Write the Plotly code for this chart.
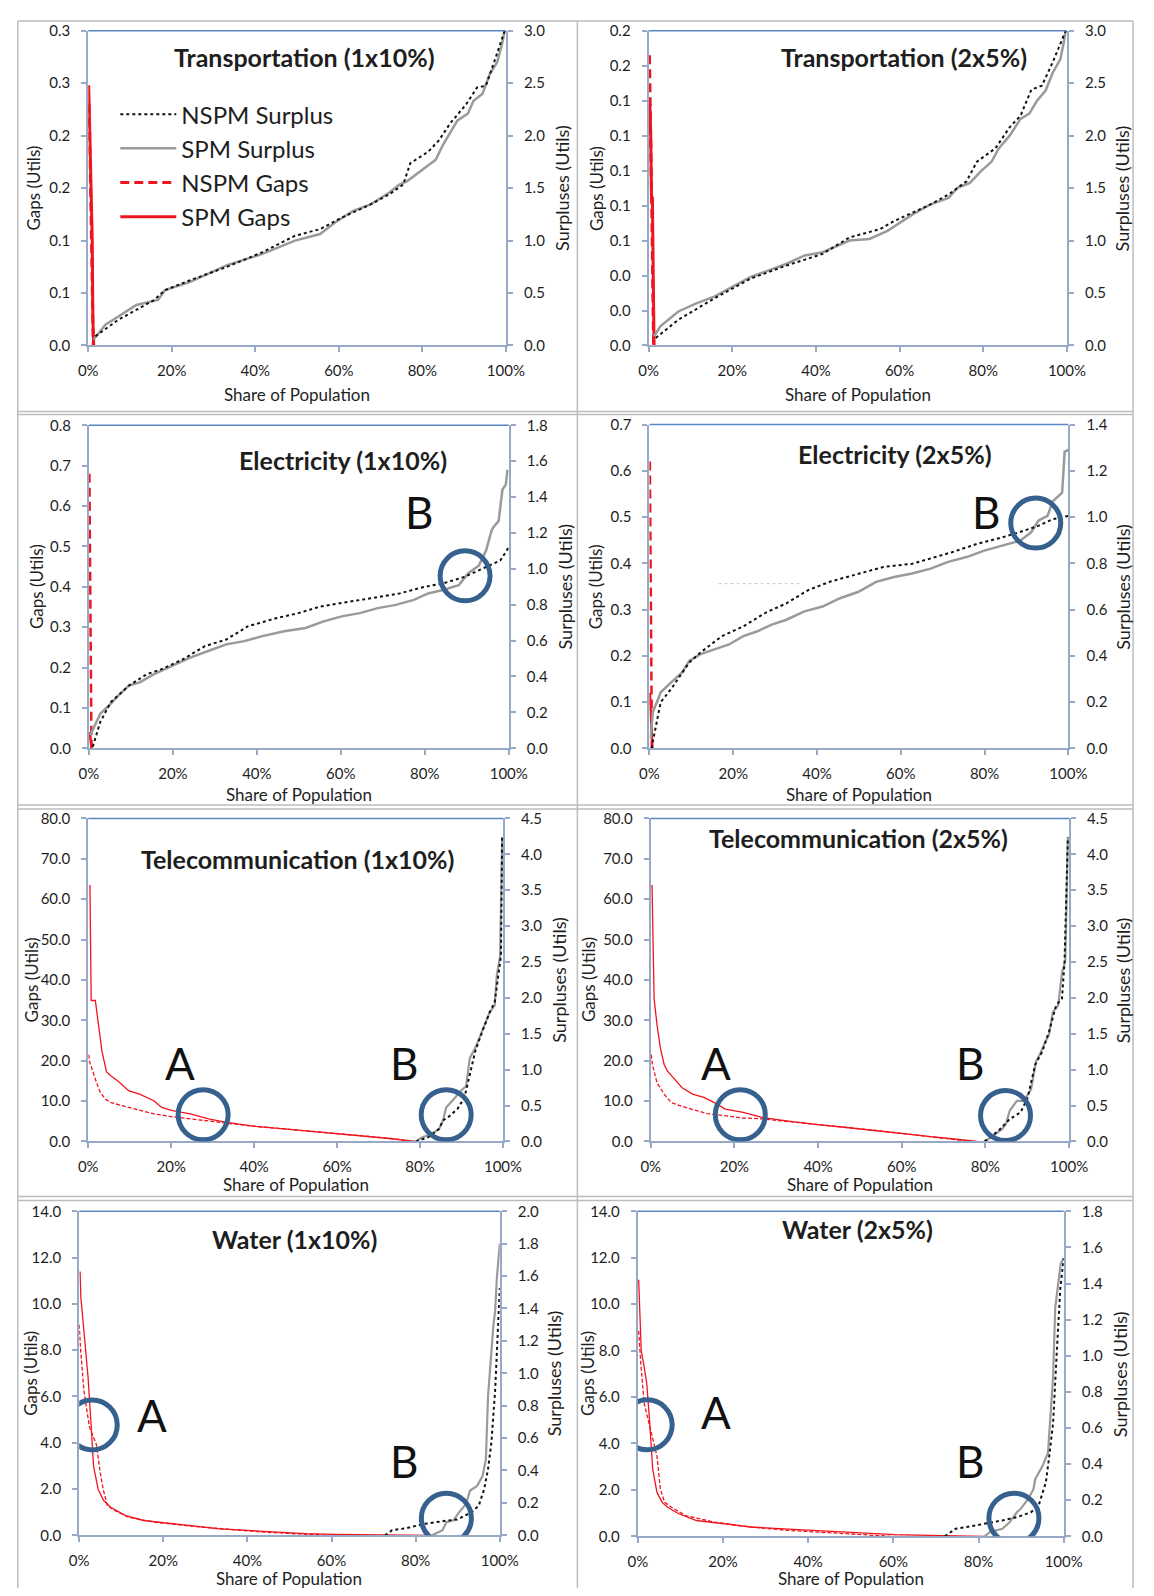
import plotly.graph_objects as go

# ---------------- DATA ----------------
# Transportation (1x10%)
T1_SPM_SUR_X = [0.013,0.041,0.072,0.115,0.167,0.184,0.244,0.331,0.417,0.495,0.555,0.59,0.633,0.676,0.72,0.745,0.763,0.806,0.832,0.849,0.884,0.909,0.922,0.944,0.961,0.979,0.991,0.997]
T1_SPM_SUR_Y = [0.057,0.198,0.276,0.386,0.434,0.528,0.606,0.763,0.873,1.0,1.062,1.17,1.28,1.345,1.455,1.533,1.565,1.69,1.77,1.91,2.146,2.21,2.33,2.40,2.585,2.70,2.88,3.0]
T1_NSPM_SUR_X = [0.017,0.072,0.158,0.184,0.244,0.331,0.417,0.495,0.555,0.607,0.676,0.72,0.754,0.771,0.814,0.840,0.866,0.905,0.931,0.952,0.974,0.994,0.997]
T1_NSPM_SUR_Y = [0.088,0.245,0.434,0.528,0.622,0.748,0.889,1.046,1.109,1.219,1.345,1.439,1.533,1.737,1.847,1.957,2.114,2.30,2.46,2.476,2.727,2.947,3.0]
T1_SPM_GAP_X = [0.001,0.004,0.007,0.0095,0.011,0.013]
T1_SPM_GAP_Y = [0.248,0.2,0.144,0.1,0.025,0.0]
T1_NSPM_GAP_X = [0.002,0.005,0.008,0.011,0.012]
T1_NSPM_GAP_Y = [0.23,0.17,0.11,0.04,0.0]
T1_GAP_TICKS = [0,0.05,0.10,0.15,0.20,0.25,0.30]
T1_GAP_LABELS = ['0.0','0.1','0.1','0.2','0.2','0.3','0.3']

# Transportation (2x5%)
T2_SPM_SUR_X = [0.013,0.028,0.071,0.114,0.157,0.2,0.244,0.287,0.33,0.373,0.416,0.48,0.528,0.571,0.631,0.674,0.717,0.738,0.768,0.794,0.82,0.837,0.863,0.889,0.91,0.928,0.949,0.966,0.984,0.992,0.997]
T2_SPM_SUR_Y = [0.088,0.182,0.324,0.402,0.465,0.559,0.653,0.716,0.779,0.858,0.889,1.0,1.015,1.093,1.25,1.345,1.407,1.502,1.549,1.659,1.753,1.879,2.0,2.16,2.21,2.33,2.43,2.60,2.727,2.88,3.0]
T2_NSPM_SUR_X = [0.017,0.071,0.157,0.244,0.33,0.416,0.48,0.553,0.588,0.674,0.717,0.76,0.785,0.829,0.863,0.889,0.915,0.94,0.966,0.988,0.997]
T2_NSPM_SUR_Y = [0.072,0.245,0.449,0.638,0.763,0.873,1.03,1.109,1.188,1.345,1.439,1.565,1.753,1.879,2.08,2.19,2.44,2.476,2.70,2.915,3.0]
T2_SPM_GAP_X = [0.003,0.005,0.007,0.009,0.011,0.013]
T2_SPM_GAP_Y = [0.138,0.12,0.082,0.085,0.04,0.0]
T2_NSPM_GAP_X = [0.002,0.004,0.006,0.008,0.010,0.012]
T2_NSPM_GAP_Y = [0.166,0.14,0.11,0.07,0.03,0.0]
T2_GAP_TICKS = [0,0.02,0.04,0.06,0.08,0.10,0.12,0.14,0.16,0.18]
T2_GAP_LABELS = ['0.0','0.0','0.0','0.1','0.1','0.1','0.1','0.1','0.2','0.2']

# Electricity (1x10%)
E1_SPM_SUR_X = [0.003,0.014,0.027,0.044,0.07,0.095,0.121,0.155,0.198,0.241,0.284,0.327,0.37,0.413,0.465,0.516,0.559,0.602,0.645,0.688,0.731,0.774,0.808,0.843,0.881,0.903,0.929,0.946,0.959,0.963,0.976,0.985,0.993,0.997]
E1_SPM_SUR_Y = [0.073,0.129,0.193,0.23,0.294,0.349,0.367,0.413,0.459,0.505,0.542,0.579,0.597,0.625,0.652,0.67,0.707,0.735,0.753,0.781,0.799,0.827,0.863,0.882,0.909,0.974,1.019,1.102,1.212,1.231,1.267,1.442,1.469,1.552]
E1_NSPM_SUR_X = [0.009,0.027,0.052,0.095,0.138,0.173,0.224,0.276,0.327,0.379,0.448,0.499,0.551,0.602,0.671,0.74,0.8,0.843,0.894,0.946,0.98,1.0]
E1_NSPM_SUR_Y = [0.009,0.147,0.257,0.349,0.413,0.441,0.496,0.569,0.606,0.68,0.726,0.753,0.79,0.808,0.836,0.863,0.9,0.918,0.955,1.01,1.047,1.12]
E1_SPM_GAP_X = [0.002,0.004,0.006]
E1_SPM_GAP_Y = [0.04,0.02,0.0]
E1_NSPM_GAP_X = [0.001,0.002,0.003,0.004,0.005,0.006]
E1_NSPM_GAP_Y = [0.68,0.55,0.35,0.18,0.05,0.0]

# Electricity (2x5%)
E2_SPM_SUR_X = [0.003,0.008,0.018,0.027,0.052,0.078,0.095,0.121,0.155,0.19,0.224,0.258,0.292,0.327,0.37,0.413,0.455,0.499,0.541,0.584,0.627,0.671,0.713,0.757,0.799,0.842,0.885,0.911,0.928,0.95,0.963,0.985,0.991,1.0]
E2_SPM_SUR_Y = [0.043,0.157,0.2,0.242,0.285,0.328,0.378,0.406,0.428,0.449,0.485,0.506,0.535,0.556,0.592,0.613,0.649,0.677,0.72,0.741,0.756,0.777,0.806,0.827,0.855,0.877,0.898,0.934,0.984,1.005,1.069,1.105,1.283,1.29]
E2_NSPM_SUR_X = [0.005,0.014,0.027,0.052,0.095,0.121,0.173,0.224,0.276,0.327,0.379,0.43,0.499,0.558,0.627,0.671,0.722,0.782,0.842,0.894,0.928,0.963,1.0]
E2_NSPM_SUR_Y = [0.0,0.086,0.2,0.257,0.371,0.413,0.485,0.527,0.585,0.627,0.684,0.72,0.756,0.784,0.798,0.82,0.848,0.884,0.912,0.941,0.962,0.991,1.005]
E2_SPM_GAP_X = [0.001,0.003,0.005,0.007]
E2_SPM_GAP_Y = [0.12,0.08,0.03,0.0]
E2_NSPM_GAP_X = [0.001,0.002,0.003,0.004,0.005,0.006]
E2_NSPM_GAP_Y = [0.62,0.5,0.3,0.15,0.05,0.0]
E2_STRAY_X = [0.165,0.362]
E2_STRAY_Y = [0.356,0.356]

# Telecommunication (1x10%)
C1_SPM_GAP_X = [0.004,0.007,0.017,0.024,0.033,0.044,0.055,0.072,0.098,0.124,0.159,0.177,0.203,0.246,0.29,0.333,0.403,0.472,0.55,0.611,0.681,0.733,0.768,0.79]
C1_SPM_GAP_Y = [63.5,34.9,34.9,28.8,22.3,17.2,16.2,14.9,12.5,11.7,10.0,8.4,7.6,6.8,5.6,4.7,3.7,3.1,2.4,1.9,1.2,0.65,0.24,0.0]
C1_NSPM_GAP_X = [0.001,0.003,0.02,0.029,0.042,0.055,0.098,0.159,0.203,0.246,0.29,0.333,0.403,0.472,0.55,0.611,0.681,0.733,0.777]
C1_NSPM_GAP_Y = [21.5,19.8,14.5,12.1,10.4,9.6,8.4,6.8,6.1,5.6,5.1,4.5,3.7,3.1,2.4,2.0,1.2,0.65,0.0]
C1_SPM_SUR_X = [0.79,0.803,0.829,0.846,0.855,0.863,0.881,0.898,0.911,0.92,0.933,0.95,0.968,0.98,0.985,0.993,0.995,0.998]
C1_SPM_SUR_Y = [0.0,0.05,0.106,0.174,0.289,0.473,0.588,0.702,0.771,1.16,1.3,1.53,1.80,1.896,2.31,2.585,3.365,4.24]
C1_NSPM_SUR_X = [0.79,0.82,0.846,0.855,0.872,0.89,0.907,0.916,0.933,0.95,0.968,0.98,0.989,0.995,0.998]
C1_NSPM_SUR_Y = [0.0,0.06,0.174,0.289,0.358,0.45,0.611,0.84,1.253,1.53,1.80,1.94,2.355,2.585,4.24]

# Telecommunication (2x5%)
C2_SPM_GAP_X = [0.003,0.008,0.015,0.023,0.032,0.04,0.058,0.075,0.1,0.127,0.152,0.178,0.221,0.264,0.324,0.393,0.462,0.54,0.608,0.669,0.72,0.755,0.78]
C2_SPM_GAP_Y = [63.5,35.3,28.8,23.1,19.0,17.4,15.3,13.3,11.7,10.9,9.6,8.0,7.2,6.0,5.1,4.2,3.5,2.7,1.9,1.2,0.65,0.24,0.0]
C2_NSPM_GAP_X = [0.001,0.004,0.015,0.032,0.049,0.083,0.135,0.178,0.221,0.264,0.324,0.393,0.462,0.54,0.608,0.669,0.72,0.763]
C2_NSPM_GAP_Y = [21.5,19.0,14.5,11.7,9.6,8.4,6.9,6.4,5.8,5.6,5.0,4.2,3.5,2.7,1.9,1.2,0.65,0.0]
C2_SPM_SUR_X = [0.798,0.815,0.84,0.849,0.858,0.875,0.892,0.909,0.921,0.93,0.943,0.952,0.961,0.974,0.983,0.991,0.994,0.997]
C2_SPM_SUR_Y = [0.0,0.06,0.174,0.243,0.427,0.565,0.565,0.725,1.116,1.21,1.39,1.483,1.80,1.896,2.355,2.516,3.365,4.24]
C2_NSPM_SUR_X = [0.798,0.832,0.858,0.884,0.901,0.919,0.936,0.952,0.969,0.983,0.989,0.997]
C2_NSPM_SUR_Y = [0.0,0.152,0.312,0.404,0.611,1.07,1.253,1.53,1.896,1.99,2.49,4.24]

# Water (1x10%)
W1_SPM_GAP_X = [0.002,0.004,0.009,0.015,0.021,0.028,0.034,0.045,0.058,0.075,0.11,0.153,0.204,0.264,0.333,0.401,0.47,0.539,0.607,0.693,0.779,0.839]
W1_SPM_GAP_Y = [11.4,10.26,9.26,8.12,6.84,4.84,2.99,1.99,1.5,1.21,0.85,0.64,0.53,0.4,0.28,0.21,0.14,0.07,0.04,0.03,0.0,0.0]
W1_NSPM_GAP_X = [0.0,0.003,0.011,0.017,0.024,0.033,0.041,0.05,0.057,0.067,0.084,0.118,0.178,0.264,0.35,0.436,0.521,0.607,0.693]
W1_NSPM_GAP_Y = [9.1,8.1,6.27,5.56,4.7,4.27,3.92,2.7,1.99,1.28,1.07,0.78,0.57,0.4,0.26,0.14,0.06,0.0,0.0]
W1_NSPM_SUR_X = [0.727,0.744,0.779,0.822,0.864,0.899,0.933,0.95,0.963,0.972,0.98,0.989,0.995,1.0]
W1_NSPM_SUR_Y = [0.0,0.031,0.045,0.071,0.087,0.098,0.142,0.183,0.285,0.407,0.57,0.895,1.241,1.526]
W1_SPM_SUR_X = [0.839,0.864,0.873,0.89,0.903,0.92,0.929,0.946,0.959,0.967,0.972,0.98,0.985,0.989,0.993,1.0]
W1_SPM_SUR_Y = [0.0,0.031,0.081,0.092,0.142,0.193,0.275,0.305,0.366,0.468,0.855,1.139,1.302,1.384,1.587,1.80]

# Water (2x5%)
W2_SPM_GAP_X = [0.002,0.005,0.008,0.015,0.021,0.028,0.035,0.045,0.057,0.07,0.096,0.138,0.197,0.265,0.332,0.4,0.467,0.535,0.603,0.687,0.772,0.814]
W2_SPM_GAP_Y = [11.05,9.42,8.0,7.29,6.58,4.87,2.88,1.89,1.46,1.25,0.97,0.68,0.54,0.4,0.33,0.26,0.18,0.11,0.07,0.04,0.01,0.0]
W2_NSPM_GAP_X = [0.002,0.007,0.015,0.024,0.032,0.045,0.053,0.063,0.079,0.112,0.18,0.265,0.349,0.434,0.518,0.594,0.70]
W2_NSPM_GAP_Y = [8.85,7.43,5.72,5.01,4.45,3.45,2.03,1.46,1.25,0.89,0.61,0.4,0.26,0.16,0.07,0.0,0.0]
W2_NSPM_SUR_X = [0.721,0.746,0.772,0.814,0.856,0.89,0.923,0.941,0.958,0.966,0.975,0.983,0.992,1.0]
W2_NSPM_SUR_Y = [0.0,0.042,0.051,0.069,0.088,0.106,0.133,0.17,0.298,0.444,0.626,0.991,1.375,1.539]
W2_SPM_SUR_X = [0.814,0.827,0.856,0.873,0.89,0.899,0.916,0.929,0.933,0.95,0.963,0.968,0.972,0.975,0.98,0.987,0.993,1.0]
W2_SPM_SUR_Y = [0.0,0.024,0.042,0.078,0.133,0.152,0.206,0.261,0.316,0.389,0.462,0.626,0.79,0.882,1.265,1.393,1.511,1.539]

X_TICKS = [0, 0.2, 0.4, 0.6, 0.8, 1.0]
X_LABELS = ['0%', '20%', '40%', '60%', '80%', '100%']

TITLES = ['Transportation (1x10%)', 'Transportation (2x5%)', 'Electricity (1x10%)', 'Electricity (2x5%)',
          'Telecommunication (1x10%)', 'Telecommunication (2x5%)', 'Water (1x10%)', 'Water (2x5%)']
GAP_MAX = [0.30, 0.18, 0.8, 0.7, 80, 80, 14, 14]
GAP_STEP = [0.05, 0.02, 0.1, 0.1, 10, 10, 2, 2]
SUR_MAX = [3.0, 3.0, 1.8, 1.4, 4.5, 4.5, 2.0, 1.8]
SUR_STEP = [0.5, 0.5, 0.2, 0.2, 0.5, 0.5, 0.2, 0.2]

SERIES = [
    (T1_NSPM_SUR_X, T1_NSPM_SUR_Y, T1_SPM_SUR_X, T1_SPM_SUR_Y, T1_NSPM_GAP_X, T1_NSPM_GAP_Y, T1_SPM_GAP_X, T1_SPM_GAP_Y),
    (T2_NSPM_SUR_X, T2_NSPM_SUR_Y, T2_SPM_SUR_X, T2_SPM_SUR_Y, T2_NSPM_GAP_X, T2_NSPM_GAP_Y, T2_SPM_GAP_X, T2_SPM_GAP_Y),
    (E1_NSPM_SUR_X, E1_NSPM_SUR_Y, E1_SPM_SUR_X, E1_SPM_SUR_Y, E1_NSPM_GAP_X, E1_NSPM_GAP_Y, E1_SPM_GAP_X, E1_SPM_GAP_Y),
    (E2_NSPM_SUR_X, E2_NSPM_SUR_Y, E2_SPM_SUR_X, E2_SPM_SUR_Y, E2_NSPM_GAP_X, E2_NSPM_GAP_Y, E2_SPM_GAP_X, E2_SPM_GAP_Y),
    (C1_NSPM_SUR_X, C1_NSPM_SUR_Y, C1_SPM_SUR_X, C1_SPM_SUR_Y, C1_NSPM_GAP_X, C1_NSPM_GAP_Y, C1_SPM_GAP_X, C1_SPM_GAP_Y),
    (C2_NSPM_SUR_X, C2_NSPM_SUR_Y, C2_SPM_SUR_X, C2_SPM_SUR_Y, C2_NSPM_GAP_X, C2_NSPM_GAP_Y, C2_SPM_GAP_X, C2_SPM_GAP_Y),
    (W1_NSPM_SUR_X, W1_NSPM_SUR_Y, W1_SPM_SUR_X, W1_SPM_SUR_Y, W1_NSPM_GAP_X, W1_NSPM_GAP_Y, W1_SPM_GAP_X, W1_SPM_GAP_Y),
    (W2_NSPM_SUR_X, W2_NSPM_SUR_Y, W2_SPM_SUR_X, W2_SPM_SUR_Y, W2_NSPM_GAP_X, W2_NSPM_GAP_Y, W2_SPM_GAP_X, W2_SPM_GAP_Y),
]

# annotation markers: (panel, x share, gap value)
CIRCLES = [(2, 0.896, 0.427), (3, 0.922, 0.487), (4, 0.277, 6.6), (4, 0.863, 6.6),
           (5, 0.214, 6.6), (5, 0.848, 6.4), (6, 0.031, 4.77), (6, 0.873, 0.74),
           (7, 0.022, 4.8), (7, 0.883, 0.78)]
LETTERS = [(2, 'B', 0.787, 0.586), (3, 'B', 0.804, 0.512), (4, 'A', 0.22, 19.4), (4, 'B', 0.761, 19.4),
           (5, 'A', 0.155, 19.4), (5, 'B', 0.763, 19.4), (6, 'A', 0.172, 5.2), (6, 'B', 0.772, 3.2),
           (7, 'A', 0.183, 5.37), (7, 'B', 0.78, 3.24)]

# ---------------- LAYOUT (pixels) ----------------
W, H = 1154, 1596
PANEL_PX = [
    (80.3, 508.7, 21, 339.3), (655.1, 1084.2, 21, 339.3),
    (81.0, 511.6, 420, 746.7), (655.9, 1085.7, 419.3, 746.7),
    (80.3, 505.7, 817.7, 1144.3), (657.3, 1086.4, 817.7, 1144.3),
    (71.0, 502.4, 1215, 1542.7), (644.0, 1080.9, 1215, 1543.7),
]
TITLE_POS = [(302, 48), (917, 48), (342, 455), (908, 449), (295, 859), (870, 837), (292, 1243), (869, 1233)]
GAP_TITLE_X = [24, 601, 27, 601, 22, 594, 21, 593]
SUR_TITLE_X = [566, 1141, 569, 1142, 563, 1142, 558, 1138]
XT_Y = [389, 389, 793, 793, 1188, 1188, 1586, 1586]
RED_W = [3, 3, 2.5, 2.5, 1.3, 1.3, 1.3, 1.3]
GRAY_W = [2.5, 2.5, 2.5, 2.5, 2.2, 2.2, 2.2, 2.2]

FONT = 'Lato'
TXT = '#1e1e1e'
AXC = '#97A9C6'
RED = '#F0141E'
GRAY = '#9A9A9A'
CIRC = '#36608E'


def fx(p):
    return p / W


def fy(p):
    return 1 - p / H


def rng(mx, st):
    n = int(round(mx / st))
    return [round(i * st, 6) for i in range(n + 1)]


fig = go.Figure()
layout = {}
shapes = []
annotations = []

for i in range(8):
    xa = 'x' if i == 0 else f'x{i+1}'
    yl_n = 2 * i + 1
    yr_n = 2 * i + 2
    yl = 'y' if yl_n == 1 else f'y{yl_n}'
    yr = f'y{yr_n}'
    l, r, t, b = PANEL_PX[i]
    nsx, nsy, ssx, ssy, ngx, ngy, sgx, sgy = SERIES[i]
    leg = (i == 0)

    fig.add_trace(go.Scatter(x=ngx, y=ngy, xaxis=xa, yaxis=yl, mode='lines', name='NSPM Gaps',
                             line=dict(color=RED, width=RED_W[i], dash='9px,5px' if RED_W[i] > 2 else '4px,2px'),
                             showlegend=leg, legendrank=3, hoverinfo='skip'))
    fig.add_trace(go.Scatter(x=sgx, y=sgy, xaxis=xa, yaxis=yl, mode='lines', name='SPM Gaps',
                             line=dict(color=RED, width=RED_W[i]),
                             showlegend=leg, legendrank=4, hoverinfo='skip'))
    if i == 3:
        fig.add_trace(go.Scatter(x=E2_STRAY_X, y=E2_STRAY_Y, xaxis=xa, yaxis=yl, mode='lines',
                                 line=dict(color='#C8C8C8', width=1, dash='dot'),
                                 showlegend=False, hoverinfo='skip'))
    fig.add_trace(go.Scatter(x=ssx, y=ssy, xaxis=xa, yaxis=yr, mode='lines', name='SPM Surplus',
                             line=dict(color=GRAY, width=GRAY_W[i]),
                             showlegend=leg, legendrank=2, hoverinfo='skip'))
    fig.add_trace(go.Scatter(x=nsx, y=nsy, xaxis=xa, yaxis=yr, mode='lines', name='NSPM Surplus',
                             line=dict(color='#111111', width=2, dash='dot'),
                             showlegend=leg, legendrank=1, hoverinfo='skip'))

    axis_common = dict(showgrid=False, zeroline=False, showline=True, linecolor=AXC, linewidth=2,
                       ticks='outside', ticklen=5, tickwidth=1.5, tickcolor=AXC,
                       tickfont=dict(family=FONT, size=15, color=TXT))

    layout['xaxis' if i == 0 else f'xaxis{i+1}'] = dict(
        domain=[fx(l), fx(r)], anchor=yl, range=[0, 1], tickvals=X_TICKS, ticktext=X_LABELS,
        ticklabelstandoff=6, **axis_common)

    if i == 0:
        gticks, glabels = T1_GAP_TICKS, T1_GAP_LABELS
    elif i == 1:
        gticks, glabels = T2_GAP_TICKS, T2_GAP_LABELS
    else:
        gticks = rng(GAP_MAX[i], GAP_STEP[i])
        glabels = [f'{v:.1f}' for v in gticks]
    layout['yaxis' if yl_n == 1 else f'yaxis{yl_n}'] = dict(
        domain=[fy(b), fy(t)], anchor=xa, range=[0, GAP_MAX[i]], tickvals=gticks, ticktext=glabels,
        ticklabelstandoff=8, **axis_common)
    sticks = rng(SUR_MAX[i], SUR_STEP[i])
    layout[f'yaxis{yr_n}'] = dict(
        overlaying=yl, side='right', anchor=xa, range=[0, SUR_MAX[i]], tickvals=sticks,
        ticktext=[f'{v:.1f}' for v in sticks], ticklabelstandoff=8, **axis_common)

    # top border of plot area
    shapes.append(dict(type='line', xref='paper', yref='paper', x0=fx(l), x1=fx(r), y0=fy(t), y1=fy(t),
                       line=dict(color='#5A86C4', width=1.5)))

    # texts
    annotations.append(dict(text=TITLES[i], xref='paper', yref='paper', x=fx(TITLE_POS[i][0]), y=fy(TITLE_POS[i][1]),
                            xanchor='center', yanchor='middle', showarrow=False,
                            font=dict(family=FONT, size=25, color=TXT, weight=700)))
    cy = (t + b) / 2
    annotations.append(dict(text='Gaps (Utils)', xref='paper', yref='paper', x=fx(GAP_TITLE_X[i]), y=fy(cy),
                            xanchor='center', yanchor='middle', showarrow=False, textangle=-90,
                            font=dict(family=FONT, size=17, color=TXT)))
    annotations.append(dict(text='Surpluses (Utils)', xref='paper', yref='paper', x=fx(SUR_TITLE_X[i]), y=fy(cy),
                            xanchor='center', yanchor='middle', showarrow=False, textangle=-90,
                            font=dict(family=FONT, size=18, color=TXT)))
    annotations.append(dict(text='Share of Population', xref='paper', yref='paper', x=fx((l + r) / 2), y=fy(XT_Y[i]),
                            xanchor='center', yanchor='middle', showarrow=False,
                            font=dict(family=FONT, size=17, color=TXT)))

for (p, cx, cyv) in CIRCLES:
    xa = 'x' if p == 0 else f'x{p+1}'
    yl_n = 2 * p + 1
    yl = 'y' if yl_n == 1 else f'y{yl_n}'
    shapes.append(dict(type='circle', xref=xa, yref=yl, xsizemode='pixel', ysizemode='pixel',
                       xanchor=cx, yanchor=cyv, x0=-25, x1=25, y0=-25, y1=25,
                       line=dict(color=CIRC, width=5)))

for (p, txt, lx, ly) in LETTERS:
    xa = 'x' if p == 0 else f'x{p+1}'
    yl_n = 2 * p + 1
    yl = 'y' if yl_n == 1 else f'y{yl_n}'
    annotations.append(dict(text=txt, xref=xa, yref=yl, x=lx, y=ly, showarrow=False,
                            xanchor='center', yanchor='middle',
                            font=dict(family=FONT, size=44, color='#111111')))

# panel frames
FRAME = '#BDBDBD'
for yy in [11, 406, 409, 804, 808, 1200, 1204]:
    shapes.append(dict(type='line', xref='paper', yref='paper', x0=fx(8), x1=fx(1152), y0=fy(yy), y1=fy(yy),
                       line=dict(color=FRAME, width=1.5), layer='below'))
for xx in [8, 582, 1152]:
    shapes.append(dict(type='line', xref='paper', yref='paper', x0=fx(xx), x1=fx(xx), y0=fy(11), y1=fy(1596),
                       line=dict(color=FRAME, width=1.5), layer='below'))

layout.update(dict(
    width=W, height=H, margin=dict(l=0, r=0, t=0, b=0, pad=0),
    paper_bgcolor='white', plot_bgcolor='white',
    showlegend=True,
    legend=dict(x=fx(108), y=fy(83), xanchor='left', yanchor='top', bgcolor='rgba(0,0,0,0)',
                font=dict(family=FONT, size=24, color=TXT), itemwidth=56, tracegroupgap=0,
                traceorder='normal'),
    shapes=shapes, annotations=annotations,
    font=dict(family=FONT, color=TXT),
))
fig.update_layout(**layout)
fig.write_html('out.html', config={'displayModeBar': False},
               post_script="document.body.style.margin='0';document.body.style.overflow='hidden';")
